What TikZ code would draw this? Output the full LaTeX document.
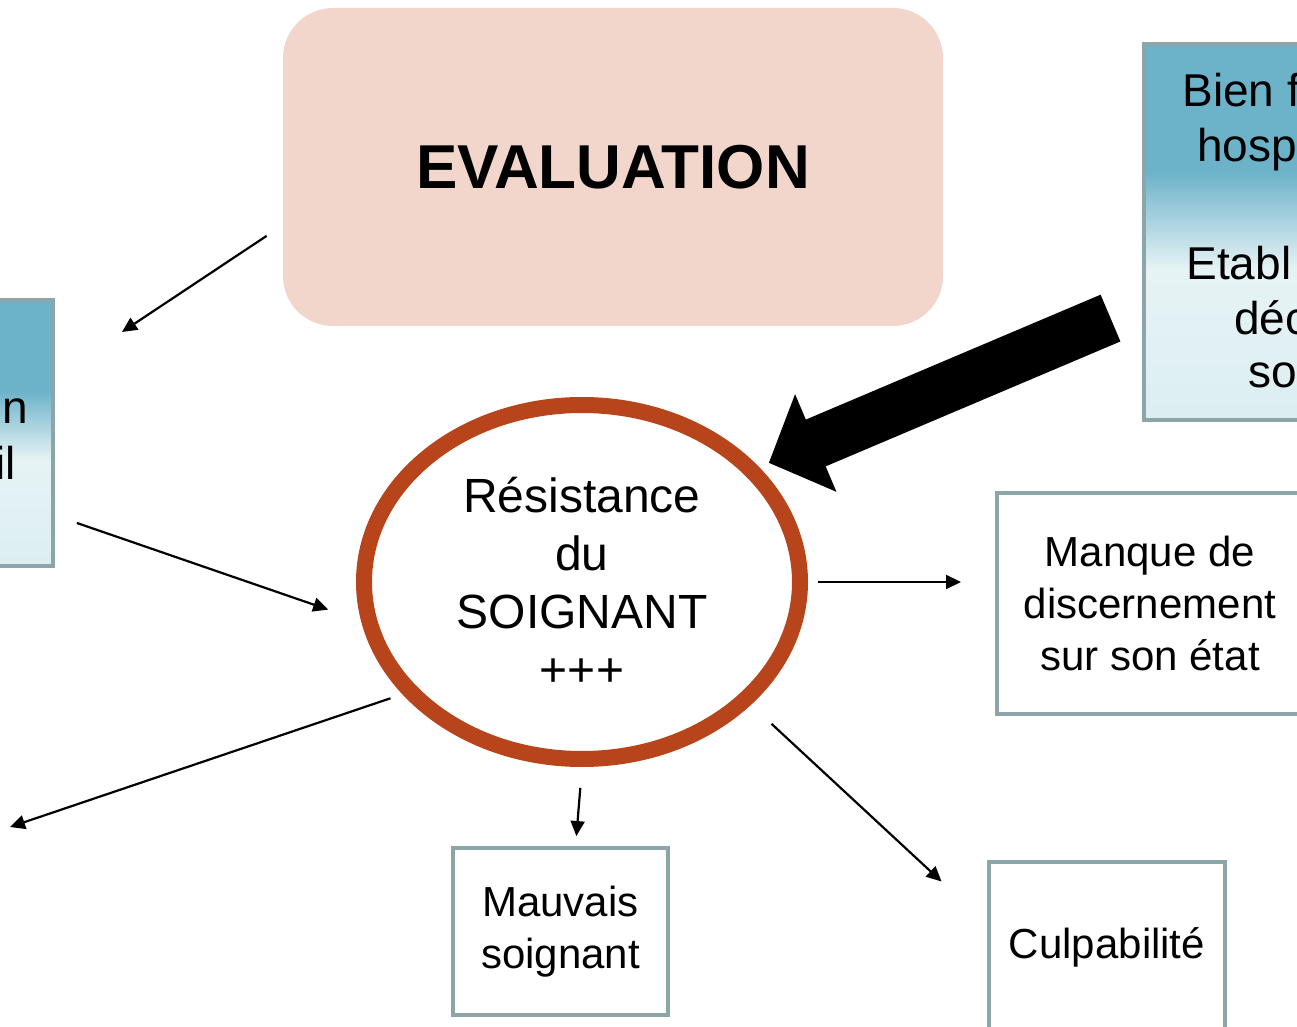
\documentclass[tikz,border=0pt]{standalone}
\usepackage{fontspec}
\setmainfont{Liberation Sans}
\usetikzlibrary{arrows.meta,shapes.geometric}
\definecolor{evfill}{HTML}{F2D6CC}
\definecolor{ringc}{HTML}{B7441A}
\definecolor{edgec}{HTML}{8BA5A8}
\definecolor{shdark}{HTML}{6CB2C9}
\definecolor{shlight}{HTML}{E6F3F5}
\definecolor{shlow}{HTML}{DCEEF1}
\pgfdeclareverticalshading{bluefade}{100bp}{color(0bp)=(shlow); color(25bp)=(shlow); color(45bp)=(shlight); color(58bp)=(shdark); color(100bp)=(shdark)}

\begin{document}
\begin{tikzpicture}[x=0.5pt, y=-0.5pt, >={Triangle[length=7.5pt, width=7pt]}, ar/.style={->, line width=1.1pt}, bx/.style={draw=edgec, line width=2pt, fill=white, align=center, font=\fontsize{21}{26}\selectfont}, sbx/.style={draw=edgec, line width=2pt, shade, shading=bluefade}, frag/.style={inner sep=0pt, font=\fontsize{23}{28}\selectfont}]
	\useasboundingbox (0,0) rectangle (1297,1027);
	\fill[white] (0,0) rectangle (1297,1027);
	\clip (0,0) rectangle (1297,1027);
	\node[fill=evfill, rounded corners=25pt, minimum width=330pt, minimum height=159pt, font=\fontsize{31}{37}\selectfont\bfseries] (ev) at (613,167) {EVALUATION};
	\node[sbx, minimum width=153pt, minimum height=133pt] (lb) at (-100,433) {};
	\node[frag, anchor=base east] (lb1) at (28,423) {n};
	\node[frag, anchor=base east] (lb2) at (16,480) {il};
	\node[sbx, minimum width=178pt, minimum height=188pt] (rb) at (1322,232) {};
	\foreach \xx/\yy/\tt [count=\i] in {1182/107/Bien f, 1197/162/hosp, 1186/280/Etabl, 1234/335/déc, 1248/388/so} {\node[frag, anchor=base west] (rb\i) at (\xx,\yy) {\tt};}
	\node[ellipse, draw=ringc, line width=8pt, minimum width=218pt, minimum height=177pt, align=center, font=\fontsize{24}{29}\selectfont] (ell) at (582,582) {Résistance\\du\\SOIGNANT\\+++};
	\node[bx, minimum width=153pt, minimum height=110.5pt] (man) at (1150,603.5) {Manque de\\discernement\\sur son état};
	\node[bx, minimum width=107.5pt, minimum height=83.5pt] (mau) at (560.5,931.5) {Mauvais\\soignant};
	\node[bx, minimum width=118pt, minimum height=85pt] (culp) at (1107,947) {Culpabilité};
	\coordinate (lbtop) at (122,332);
	\coordinate (offl) at (10,827);
	\draw[ar, shorten <=9.6pt] (ev.190) -- (lbtop);
	\draw[ar, shorten <=11.6pt, shorten >=17.4pt] (lb.-28) -- (ell.190);
	\draw[ar, shorten <=6.3pt] (ell.212) -- (offl);
	\draw[ar, shorten <=10.5pt, shorten >=5pt] (ell.south) -- (mau.80);
	\draw[ar, shorten <=5pt, shorten >=17pt] (ell.east) -- (ell.east -| man.west);
	\draw[ar, shorten <=14pt, shorten >=31pt] (ell.-36) -- (culp.169);
	\draw[-{Triangle[length=25.5pt, width=51.5pt]}, line width=25.4pt, shorten <=17.1pt, shorten >=5.3pt] (rb.202) -- (ell.33);
\end{tikzpicture}
\end{document}
